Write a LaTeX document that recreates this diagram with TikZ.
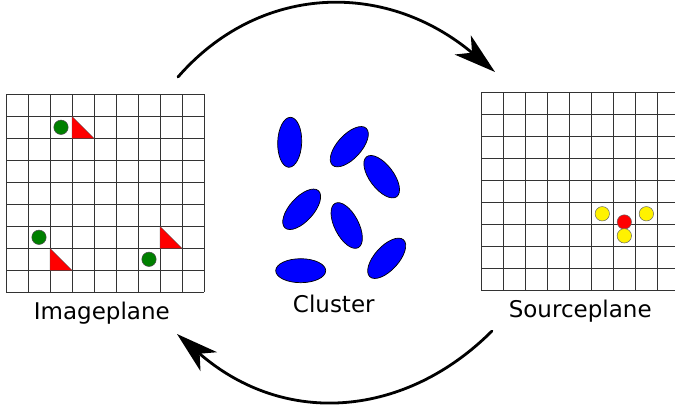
\documentclass[tikz,border=0pt]{standalone}
\usepackage{fontspec}
\setmainfont{DejaVu Sans}
\usetikzlibrary{arrows.meta}

\tikzset{
  gridline/.style={draw=black!80, line width=0.9pt},
  planelabel/.style={font=\fontsize{23}{27}\selectfont, anchor=base, inner sep=0pt},
  imgdot/.style={fill=green!50!black, draw=black!70, line width=0.5pt},
  imgwedge/.style={fill=red, draw=black!70, line width=0.4pt, line join=miter},
  srcdot/.style={fill=yellow, draw=black!60, line width=0.5pt},
  srccore/.style={fill=red, draw=black!60, line width=0.5pt},
  galaxy/.style={fill=blue, draw=black, line width=0.7pt},
  flow/.style={line width=2.8pt, line cap=round,
    -{Stealth[length=42pt, width=25pt, inset=12pt]}},
}

\begin{document}
\begin{tikzpicture}[x=1pt, y=-1pt]
  \useasboundingbox (0,0) rectangle (675,406);
  \clip (0,0) rectangle (675,406);

  % image plane: 9x9 grid with lensed images
  \begin{scope}[shift={(6,94.3)}]
    \foreach \k in {0,...,9} {
      \draw[gridline] (\k*22,0) -- (\k*22,198);
      \draw[gridline] (0,\k*22) -- (198,\k*22);
    }
    \foreach \c/\r in {3/1, 2/7, 7/6}
      \draw[imgwedge] (\c*22,\r*22) -- (\c*22,\r*22+22) -- (\c*22+22,\r*22+22) -- cycle;
    \foreach \c/\r in {2/1, 1/6, 6/7}
      \draw[imgdot] (\c*22+11,\r*22+11) circle (7.2);
  \end{scope}

  % source plane: grid running past the right edge
  \begin{scope}[shift={(481,92.5)}]
    \foreach \k in {0,...,9} {
      \draw[gridline] (\k*22.05,0) -- (\k*22.05,198.5);
      \draw[gridline] (0,\k*22.05) -- (198.5,\k*22.05);
    }
    \draw[srcdot] (5.5*22.05,5.5*22.05) circle (7.2);
    \draw[srcdot] (7.5*22.05,5.5*22.05) circle (7.2);
    \draw[srccore] (6.5*22.05,129.5) circle (7.2);
    \draw[srcdot] (6.5*22.05,6.5*22.05) circle (7.2);
  \end{scope}

  % cluster galaxies
  \foreach \x/\y/\a in {289.7/142.3/88, 349.3/146.7/47.6, 381.7/176.7/-53,
                        301.7/209.3/48, 346.7/225.5/-62.6, 386.7/258.3/47.7,
                        300.7/270.7/0}
    \draw[galaxy, shift={(\x,\y)}, rotate=\a] (0,0) ellipse (25 and 12);

  % labels
  \node[planelabel] (imageplane) at (101.8,319.3) {Imageplane};
  \node[planelabel] (cluster) at (333.8,312.5) {Cluster};
  \node[planelabel] (sourceplane) at (580.2,317.5) {Sourceplane};

  % mapping arrows
  \coordinate (fwdA) at (178,77);
  \coordinate (fwdB) at (495,72);
  \coordinate (bwdA) at (492,331);
  \coordinate (bwdB) at (177,334);
  \draw[flow] (fwdA) .. controls (258.2,-15.3) and (384.1,-21.1) .. (fwdB);
  \draw[flow] (bwdA) .. controls (406.2,416.8) and (285.3,428.4) .. (bwdB);
\end{tikzpicture}
\end{document}
